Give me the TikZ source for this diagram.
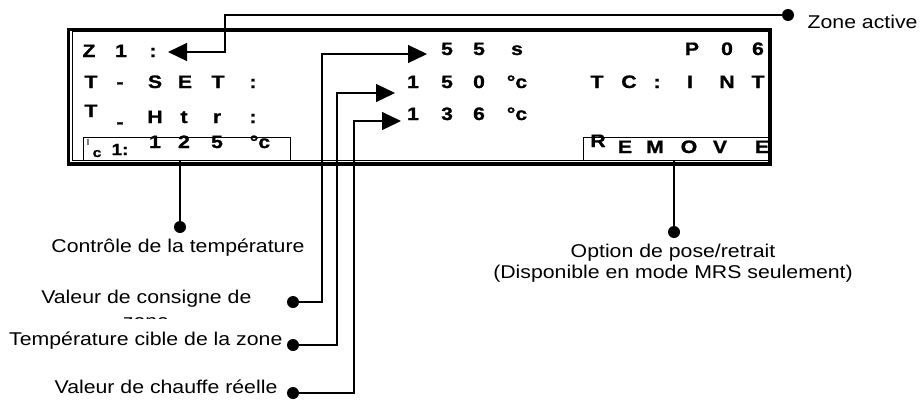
\documentclass[tikz,border=0pt]{standalone}
\usepackage{fontspec}
\setmainfont{Liberation Sans}
\newfontfamily\lblfont[FakeStretch=1.15]{Liberation Sans}
\newfontfamily\dispfont[FakeStretch=1.18, BoldFeatures={FakeBold=1.2}]{Liberation Sans}
\usetikzlibrary{arrows.meta,positioning,calc}

\tikzset{
  >={Triangle[length=19pt,width=18pt]},
  every picture/.append style={line width=1.2pt},
}

\begin{document}
\begin{tikzpicture}[
  x=1pt, y=-1pt,
  % --- Styles ---
  disp/.style={font=\dispfont\bfseries\fontsize{18}{20}\selectfont, inner sep=0pt, anchor=base},
  dispsm/.style={inner sep=0pt, anchor=base},
  lbl/.style={font=\lblfont\fontsize{18.5}{24}\selectfont, inner sep=0pt},
  bullet/.style={circle, fill=black, inner sep=0pt, minimum size=12pt},
  lcdframe/.style={draw, line width=3.5pt, inner sep=0pt, outer sep=0pt, anchor=north west},
  fieldbox/.style={draw, line width=1pt, inner sep=0pt, outer sep=0pt, anchor=north west},
  arrow/.style={->, line width=1.2pt},
  leader/.style={line width=1.2pt}
]

\useasboundingbox (0,0) rectangle (920,400);

% ---- LCD frame and fields ----
\node[lcdframe, minimum width=701.5pt, minimum height=134.5pt] (lcd) at (68.5,29.5) {};
\node[fieldbox, minimum width=696pt, minimum height=129pt] (lcdIn) at (72,31) {};
\node[fieldbox, minimum width=207pt, minimum height=23pt] (tcBox) at (83,137) {};
\node[fieldbox, minimum width=185pt, minimum height=23pt] (rmBox) at (583,137) {};

% ---- Row 1 ----
\foreach \x/\ch [count=\i] in {89/Z,121/1,153/:}
  \node[disp] (zn\i) at (\x,57) {\ch};
\foreach \x/\ch [count=\i] in {447/5,479/5,517/s}
  \node[disp] (tm\i) at (\x,55) {\ch};
\foreach \x/\ch [count=\i] in {692/P,727/0,758/6}
  \node[disp] (pg\i) at (\x,55) {\ch};

% ---- Row 2 ----
\foreach \x/\ch [count=\i] in {91/T,120/-,155/S,185/E,218/T,253/:}
  \node[disp] (st\i) at (\x,88) {\ch};
\foreach \x/\ch [count=\i] in {413/1,447/5,479/0,517/°c}
  \node[disp] (sv\i) at (\x,88) {\ch};
\foreach \x/\ch [count=\i] in {597/T,629/C,657/:,690/I,727/N,758/T}
  \node[disp] (tc\i) at (\x,88) {\ch};

% ---- Row 3 ----
\node[disp] (ht1) at (91,117) {T};
\node[disp] (ht2) at (120,128) {-};
\foreach \x/\ch [count=\i from 3] in {155/H,184/t,217/r,253/:}
  \node[disp] (ht\i) at (\x,123) {\ch};
\foreach \x/\ch [count=\i] in {413/1,447/3,479/6,517/°c}
  \node[disp] (hv\i) at (\x,120) {\ch};

% ---- Row 4 ----
\node[dispsm, font=\dispfont\fontsize{9}{11}\selectfont] (tcI) at (88,145) {I};
\node[dispsm, font=\dispfont\bfseries\fontsize{13}{15}\selectfont] (tcC) at (97,157) {c};
\node[dispsm, font=\dispfont\bfseries\fontsize{16}{18}\selectfont] (tcN) at (120,155) {1:};
\foreach \x/\ch [count=\i] in {155/1,184/2,217/5,260/°c}
  \node[disp] (tv\i) at (\x,148) {\ch};
\node[disp] (rm1) at (598,147) {R};
\foreach \x/\ch [count=\i from 2] in {625/E,655/M,689/O,720/V,762/E}
  \node[disp] (rm\i) at (\x,153) {\ch};

% ---- Bullets and labels ----
\node[bullet] (dotZone) at (788,15) {};
\node[lbl, anchor=base west] (lblZone) at (807,28) {Zone active};

\node[bullet] (dotCtl) at (180,227) {};
\node[lbl, anchor=base] (lblCtl) at (178,252) {Contrôle de la température};

\node[bullet] (dotSet) at (293,302) {};
\node[lbl, anchor=base east] (lblSet) at (252,303) {Valeur de consigne de};
\begin{scope}
  \clip (0,0) rectangle (920,318);
  \node[lbl, anchor=base] (lblSetB) at (146,327.5) {zone};
\end{scope}

\node[bullet] (dotTgt) at (293,345) {};
\node[lbl, anchor=base east] (lblTgt) at (283,345) {Température cible de la zone};

\node[bullet] (dotHtr) at (293,393) {};
\node[lbl, anchor=base east] (lblHtr) at (278,393) {Valeur de chauffe réelle};

\node[bullet] (dotOpt) at (674,232) {};
\node[lbl, anchor=base] (lblOpt) at (673,257) {Option de pose/retrait};
\node[lbl, anchor=base] (lblOptB) at (673,278) {(Disponible en mode MRS seulement)};

% ---- Bends and arrow tips ----
\coordinate (bendZone) at (225,52);
\coordinate (tipZone)  at (168,52);
\coordinate (bendSet)  at (322,54);
\coordinate (tipSet)   at (427,54);
\coordinate (bendTgt)  at (337,93);
\coordinate (tipTgt)   at (395,93);
\coordinate (bendHtr)  at (354,121);
\coordinate (tipHtr)   at (401,121);

% ---- Connectors ----
\draw[arrow] (dotZone.center) -| (bendZone) -- (tipZone);
\draw[arrow] (dotSet.center) -| (bendSet) -- (tipSet);
\draw[arrow] (dotTgt.center) -| (bendTgt) -- (tipTgt);
\draw[arrow] (dotHtr.center) -| (bendHtr) -- (tipHtr);
\draw[leader] (dotCtl.center) -- (dotCtl |- tcBox.south);
\draw[leader] (dotOpt.center) -- (dotOpt |- rmBox.south);

\end{tikzpicture}
\end{document}
